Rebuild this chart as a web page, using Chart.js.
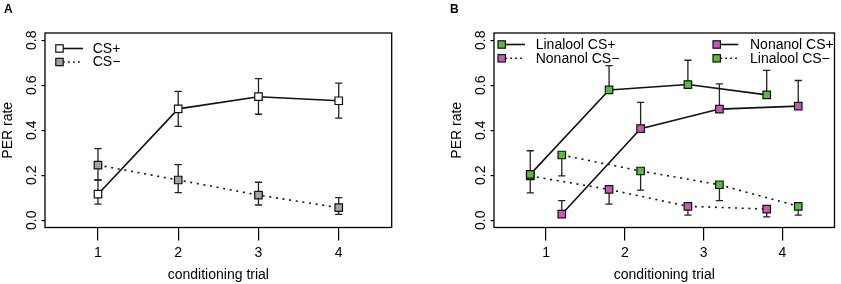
<!DOCTYPE html>
<html><head><meta charset="utf-8">
<script src="https://cdn.jsdelivr.net/npm/chart.js@4"></script>
<style>
html,body{margin:0;padding:0;background:#fff;}
#wrap{position:relative;width:841px;height:284px;overflow:hidden;background:#fff;}
canvas{position:absolute;top:0;}
#ca{left:0;} #cb{left:420px;}
</style></head><body>
<div id="wrap"><canvas id="ca" width="420" height="284"></canvas><canvas id="cb" width="421" height="284"></canvas></div>
<script>
// ---- data ----
const xTicks = [1, 2, 3, 4];
const yTicks = [0, 0.2, 0.4, 0.6, 0.8];
const yTickLabels = ['0.0', '0.2', '0.4', '0.6', '0.8'];

// Panel A
const trialsA = [1, 2, 3, 4];
const csPlusA = [0.116, 0.495, 0.549, 0.531];
const csPlusAHi = [0.179, 0.573, 0.629, 0.609];
const csPlusALo = [0.072, 0.417, 0.471, 0.454];
const csMinusA = [0.245, 0.179, 0.112, 0.056];
const csMinusAHi = [0.318, 0.247, 0.169, 0.101];
const csMinusALo = [0.179, 0.123, 0.068, 0.026];

// Panel B
const trialsBLeft = [0.8, 1.8, 2.8, 3.8];
const trialsBRight = [1.2, 2.2, 3.2, 4.2];
const linCSPlus = [0.204, 0.579, 0.603, 0.557];
const linCSPlusHi = [0.309, 0.687, 0.711, 0.666];
const nonCSMinus = [0.197, 0.137, 0.062, 0.050];
const nonCSMinusLo = [0.122, 0.072, 0.023, 0.015];
const nonCSPlus = [0.027, 0.407, 0.494, 0.507];
const nonCSPlusHi = [0.087, 0.524, 0.606, 0.621];
const linCSMinus = [0.290, 0.219, 0.158, 0.062];
const linCSMinusLo = [0.197, 0.134, 0.087, 0.023];

const GREEN = '#5dba3f', PINK = '#c45ab5', GRAY = '#a3a3a3', WHITE = '#ffffff';
const DOT = [2, 4.7];

Chart.defaults.font.family = '"Liberation Sans", Arial, Helvetica, sans-serif';
Chart.defaults.font.size = 14;
Chart.defaults.color = '#000';

function pts(xs, ys) { return xs.map((x, i) => ({x: x, y: ys[i]})); }

function ds(label, xs, ys, fill, dotted, hi, lo) {
  return {
    label: label, data: pts(xs, ys), errHi: hi || null, errLo: lo || null,
    borderColor: '#111', borderWidth: 1.6, borderDash: dotted ? DOT : [],
    pointStyle: 'rect', pointRadius: 5.3, pointBorderWidth: 1.2,
    pointBorderColor: '#111', pointBackgroundColor: fill, tension: 0, clip: false
  };
}

const errPlugin = {
  id: 'errbars',
  beforeDatasetsDraw(chart) {
    const ctx = chart.ctx, xs = chart.scales.x, ys = chart.scales.y;
    ctx.save();
    ctx.strokeStyle = '#222'; ctx.lineWidth = 1.3; ctx.setLineDash([]);
    chart.data.datasets.forEach(d => {
      d.data.forEach((p, i) => {
        const px = xs.getPixelForValue(p.x), py = ys.getPixelForValue(p.y);
        [d.errHi, d.errLo].forEach(arr => {
          if (!arr) return;
          const ey = ys.getPixelForValue(arr[i]);
          ctx.beginPath();
          ctx.moveTo(px, py); ctx.lineTo(px, ey);
          ctx.moveTo(px - 3.6, ey); ctx.lineTo(px + 3.6, ey);
          ctx.stroke();
        });
      });
    });
    ctx.restore();
  }
};

const boxPlugin = {
  id: 'rbox',
  afterDraw(chart, args, opts) {
    const ctx = chart.ctx, a = chart.chartArea;
    ctx.save();
    ctx.strokeStyle = '#000'; ctx.lineWidth = 1.3;
    ctx.strokeRect(a.left, a.top, a.right - a.left, a.bottom - a.top);
    // legend
    const L = opts.items || [];
    ctx.font = '14px ' + Chart.defaults.font.family;
    ctx.textBaseline = 'middle'; ctx.textAlign = 'left';
    L.forEach(it => {
      ctx.strokeStyle = '#111'; ctx.lineWidth = 1.6;
      ctx.setLineDash(it.dotted ? [1.8, 3.2] : []);
      ctx.beginPath(); ctx.moveTo(it.sx + 3.5, it.y); ctx.lineTo(it.lx, it.y); ctx.stroke();
      ctx.setLineDash([]);
      ctx.fillStyle = it.fill; ctx.lineWidth = 1.2;
      ctx.fillRect(it.sx - 3.7, it.y - 3.7, 7.4, 7.4);
      ctx.strokeRect(it.sx - 3.7, it.y - 3.7, 7.4, 7.4);
      ctx.fillStyle = '#000';
      ctx.fillText(it.text, it.tx, it.y + 0.5);
    });
    // panel letter
    ctx.font = 'bold 12px ' + Chart.defaults.font.family;
    ctx.textBaseline = 'alphabetic';
    ctx.fillText(opts.letter, opts.lx, 12.5);
    ctx.restore();
  }
};

function makeOptions(yAxisW, padRight, titlePadTop, legendItems, letter, lx) {
  return {
    responsive: false, animation: false, events: [],
    layout: {padding: {left: 0, top: 33, right: padRight, bottom: 0}},
    plugins: {
      legend: {display: false}, tooltip: {enabled: false},
      rbox: {items: legendItems, letter: letter, lx: lx}
    },
    scales: {
      x: {
        type: 'linear', min: 0.34, max: 4.66,
        afterBuildTicks: s => { s.ticks = xTicks.map(v => ({value: v})); },
        afterFit: s => { s.height = 56.5; },
        ticks: {padding: 4, callback: v => String(v), color: '#000', font: {size: 14}},
        grid: {display: true, drawOnChartArea: false, drawTicks: true, tickLength: 13, color: '#000', lineWidth: 1.2},
        border: {display: false},
        title: {display: true, text: 'conditioning trial', color: '#000', font: {size: 14}, padding: {top: 0, bottom: 0}}
      },
      y: {
        type: 'linear', min: -0.032, max: 0.832,
        afterBuildTicks: s => { s.ticks = yTicks.map(v => ({value: v})); },
        afterFit: s => { s.width = yAxisW; },
        ticks: {padding: 0, minRotation: 90, maxRotation: 90, crossAlign: 'center',
          callback: (v) => yTickLabels[yTicks.indexOf(v)] ?? '', color: '#000', font: {size: 14}},
        grid: {display: true, drawOnChartArea: false, drawTicks: true, tickLength: 3.5, color: '#000', lineWidth: 1.2},
        border: {display: false},
        title: {display: true, text: 'PER rate', color: '#000', font: {size: 14}, padding: {top: titlePadTop, bottom: 0}}
      }
    }
  };
}

new Chart(document.getElementById('ca'), {
  type: 'line',
  data: {datasets: [
    ds('CS+', trialsA, csPlusA, WHITE, false, csPlusAHi, csPlusALo),
    ds('CS\u2212', trialsA, csMinusA, GRAY, true, csMinusAHi, csMinusALo)
  ]},
  options: makeOptions(45, 28.3, 0, [
    {sx: 59.5, y: 48.5, lx: 83, tx: 92.7, fill: WHITE, dotted: false, text: 'CS+'},
    {sx: 59.5, y: 62, lx: 83, tx: 92.7, fill: GRAY, dotted: true, text: 'CS\u2212'}
  ], 'A', 4),
  plugins: [errPlugin, boxPlugin]
});

new Chart(document.getElementById('cb'), {
  type: 'line',
  data: {datasets: [
    ds('Linalool CS+', trialsBLeft, linCSPlus, GREEN, false, linCSPlusHi, null),
    ds('Nonanol CS+', trialsBRight, nonCSPlus, PINK, false, nonCSPlusHi, null),
    ds('Linalool CS\u2212', trialsBRight, linCSMinus, GREEN, true, null, linCSMinusLo),
    ds('Nonanol CS\u2212', trialsBLeft, nonCSMinus, PINK, true, null, nonCSMinusLo)
  ]},
  options: makeOptions(74, 1.5, 28.6, [
    {sx: 81.7, y: 44.5, lx: 105, tx: 115.7, fill: GREEN, dotted: false, text: 'Linalool CS+'},
    {sx: 81.7, y: 58.3, lx: 105, tx: 115.7, fill: PINK, dotted: true, text: 'Nonanol CS\u2212'},
    {sx: 296.7, y: 44.5, lx: 318.3, tx: 330, fill: PINK, dotted: false, text: 'Nonanol CS+'},
    {sx: 296.7, y: 58.3, lx: 318.3, tx: 330, fill: GREEN, dotted: true, text: 'Linalool CS\u2212'}
  ], 'B', 30),
  plugins: [errPlugin, boxPlugin]
});
</script>
</body></html>
